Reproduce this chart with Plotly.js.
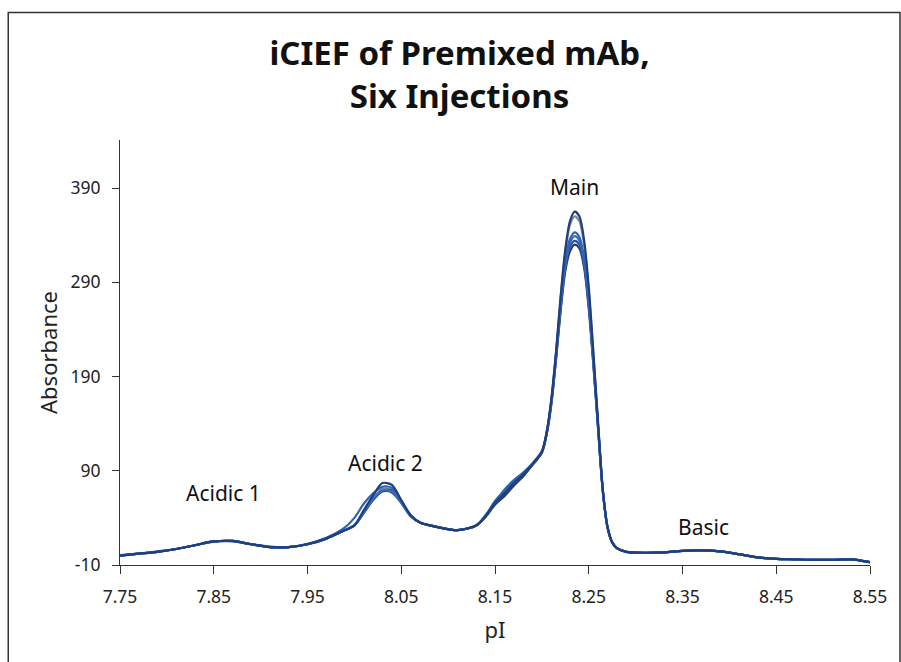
<!DOCTYPE html>
<html>
<head>
<meta charset="utf-8">
<script src="https://cdn.plot.ly/plotly-3.0.1.min.js"></script>
<style>html,body{margin:0;padding:0;background:#fff}#chart{width:901px;height:662px}</style>
</head>
<body>
<div id="chart"></div>
<script>
// pI grid (x values)
const pI = [7.75,7.77,7.79,7.81,7.83,7.85,7.87,7.89,7.91,7.93,7.95,7.97,7.99,
  8.00,8.01,8.02,8.03,8.04,8.05,8.06,8.07,8.09,8.11,8.13,
  8.14,8.15,8.16,8.17,8.18,8.19,8.20,
  8.205,8.21,8.215,8.22,8.225,8.23,8.235,8.24,8.245,8.25,8.255,8.26,8.265,8.27,8.275,8.28,
  8.29,8.31,8.33,8.35,8.37,8.39,8.41,8.43,8.45,8.47,8.49,8.51,8.53,8.55];

// Six injections (absorbance values)
const inj1 = [0,2,4,7,11,15,15.5,12,9,9,12,18,27,
  32,48,64,77,75,59,43,35,30,27,32,
  42,56,66,77,86,97,110,
  130,165,215,275,325,355,365,360,335,285,215,140,70,30,14,8,
  4,3,3.5,5,5.5,4.5,1.5,-2,-3.5,-4,-4.5,-4.5,-4,-7];
const inj2 = [0.5,2,4.5,7,11,14.5,15,12,9.5,9,12.5,19,30,
  40,55,66,73,72,58,43,35,30,27,32,
  43,57,70,80,88,98,111,
  130,163,212,268,313,336,343,338,316,270,207,137,69,31,14,8,
  4,3,3.5,5,5.5,4.5,1.5,-2,-3.5,-4,-4.5,-4.5,-4,-7];
const inj3 = [0,2,4,7,11,15,15.5,12,9,9,12,18,27,
  32,46,61,71,70,57,42,35,30,27,32,
  42,55,64,75,85,97,110,
  130,165,214,273,322,351,360,355,330,281,212,139,70,30,14,8,
  4,3,3.5,5,5.5,4.5,1.5,-2,-3.5,-4,-4.5,-4.5,-4,-7];
const inj4 = [0,2,4,7,11,15,15.5,12,9,9,12,18,27,
  32,46,60,69,68,56,42,35,30,27,32,
  42,58,68,78,87,97,110,
  129,162,210,265,309,332,339,334,313,268,205,136,69,30,14,8,
  4,3,3.5,5,5.5,4.5,1.5,-2,-3.5,-4,-4.5,-4.5,-4,-7];
const inj5 = [0,2,4,7,11,15,15.5,12,9,9,12,18,27,
  32,45,59,68,67,56,42,35,30,27,32,
  41,54,63,74,84,96,109,
  128,160,207,260,302,323,330,326,306,262,201,134,68,30,14,8,
  4,3,3.5,5,5.5,4.5,1.5,-2,-3.5,-4,-4.5,-4.5,-4,-7];
const inj6 = [0,2,4,7,11,15,15.5,12,9,9,12,18,27,
  32,46,60,69,69,57,42,35,30,27,32,
  42,56,66,77,86,97,110,
  129,161,208,262,306,328,334,330,309,265,203,135,69,30,14,8,
  4,3,3.5,5,5.5,4.5,1.5,-2,-3.5,-4,-4.5,-4.5,-4,-7];

const series = [inj1, inj2, inj3, inj4, inj5, inj6];
const seriesNames = ['Injection 1','Injection 2','Injection 3','Injection 4','Injection 5','Injection 6'];
const colors = ['#1f3f7a','#2e63b8','#7f8a99','#3c6cc0','#2b3f66','#25509a'];

const xTicks = [7.75,7.85,7.95,8.05,8.15,8.25,8.35,8.45,8.55];
const xTickText = ['7.75','7.85','7.95','8.05','8.15','8.25','8.35','8.45','8.55'];
const yTicks = [-10,90,190,290,390];
const yTickText = ['-10','90','190','290','390'];

const order = [2,4,5,3,1,0];
const traces = order.map(i => ({
  x: pI, y: series[i], type: 'scatter', mode: 'lines', name: seriesNames[i],
  line: {color: colors[i], width: 2.2, shape: 'spline', smoothing: 0.8},
  hoverinfo: 'x+y'
}));

const font = '"Noto Sans", "Open Sans", sans-serif';
const layout = {
  width: 901, height: 662,
  margin: {l: 120, r: 31, t: 140, b: 97},
  paper_bgcolor: '#fff', plot_bgcolor: '#fff',
  showlegend: false,
  title: {
    text: '<b>iCIEF of Premixed mAb,<br>Six Injections</b>',
    font: {family: font, size: 33, color: '#111'},
    x: 0.51, xref: 'container', xanchor: 'center',
    y: 1 - 65/662, yref: 'container', yanchor: 'top'
  },
  xaxis: {
    range: [7.75, 8.55], tickvals: xTicks, ticktext: xTickText,
    showgrid: false, zeroline: false, showline: true, linecolor: '#333', linewidth: 1,
    ticks: 'outside', ticklen: 8, tickcolor: '#333', ticklabelstandoff: 8,
    tickfont: {family: font, size: 17.5, color: '#222'},
    title: {text: 'pI', font: {family: font, size: 22, color: '#222'}, standoff: 15}
  },
  yaxis: {
    range: [-10, 441], tickvals: yTicks, ticktext: yTickText,
    showgrid: false, zeroline: false, showline: true, linecolor: '#333', linewidth: 1,
    ticks: 'outside', ticklen: 7, tickcolor: '#333', ticklabelstandoff: 8,
    tickfont: {family: font, size: 17.5, color: '#222'},
    title: {text: 'Absorbance', font: {family: font, size: 22, color: '#222'}, standoff: 6}
  },
  annotations: [
    {text: 'Acidic 1', x: 7.86, y: 66, xref: 'x', yref: 'y', showarrow: false, font: {family: font, size: 21, color: '#111'}},
    {text: 'Acidic 2', x: 8.033, y: 98, xref: 'x', yref: 'y', showarrow: false, font: {family: font, size: 21, color: '#111'}},
    {text: 'Main', x: 8.235, y: 391, xref: 'x', yref: 'y', showarrow: false, font: {family: font, size: 21, color: '#111'}},
    {text: 'Basic', x: 8.372, y: 30, xref: 'x', yref: 'y', showarrow: false, font: {family: font, size: 21, color: '#111'}}
  ],
  shapes: [
    {type: 'rect', xref: 'paper', yref: 'paper', x0: -0.149, x1: 1.04, y0: -0.26, y1: 1.3,
     line: {color: '#333', width: 1.5}, fillcolor: 'rgba(0,0,0,0)', layer: 'below'}
  ]
};

Plotly.newPlot('chart', traces, layout, {displayModeBar: false, staticPlot: true});
</script>
</body>
</html>
